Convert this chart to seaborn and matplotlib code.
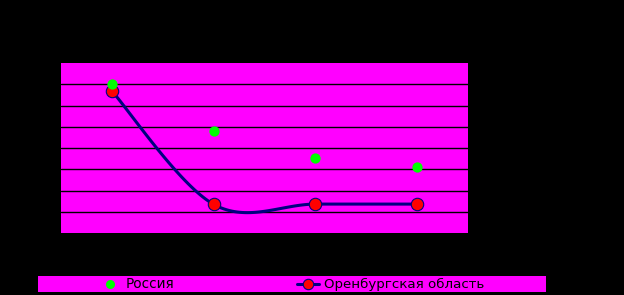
import numpy as np
import pandas as pd
import matplotlib
matplotlib.use("Agg")
import matplotlib.pyplot as plt
import seaborn as sns

# data (arbitrary units on an 8-unit grid)
categories = [1, 2, 3, 4]
russia = [7.0, 4.8, 3.52, 3.1]
orenburg = [6.68, 1.35, 1.36, 1.36]
series_names = ["Россия", "Оренбургская область"]

sns.set_theme(style="white")
plt.rcParams['font.family'] = ['DejaVu Sans']

MAGENTA = "#ff00ff"
GREEN = "#00ff00"
RED = "#ff0000"
NAVY = "#000080"

fig = plt.figure(figsize=(6.24, 2.95), dpi=100, facecolor="black")
ax = fig.add_axes([61/624, 1 - 233/295, (468-61)/624, (233-63)/295])
ax.set_facecolor(MAGENTA)

xs = np.arange(len(categories))

# Catmull-Rom style smoothing (like a spreadsheet "smoothed line")
def smooth(x, y, n=40):
    x = np.asarray(x, float); y = np.asarray(y, float)
    px, py = [], []
    for i in range(len(x) - 1):
        p0 = (x[i-1], y[i-1]) if i > 0 else (x[i], y[i])
        p3 = (x[i+2], y[i+2]) if i + 2 < len(x) else (x[i+1], y[i+1])
        p1 = (x[i], y[i]); p2 = (x[i+1], y[i+1])
        m1 = ((p2[0]-p0[0])/2, (p2[1]-p0[1])/2)
        m2 = ((p3[0]-p1[0])/2, (p3[1]-p1[1])/2)
        t = np.linspace(0, 1, n)
        h00 = 2*t**3 - 3*t**2 + 1; h10 = t**3 - 2*t**2 + t
        h01 = -2*t**3 + 3*t**2; h11 = t**3 - t**2
        px.extend(h00*p1[0] + h10*m1[0] + h01*p2[0] + h11*m2[0])
        py.extend(h00*p1[1] + h10*m1[1] + h01*p2[1] + h11*m2[1])
    return np.array(px), np.array(py)

sx, sy = smooth(xs, orenburg)
df_line = pd.DataFrame({"x": sx, "y": sy})
sns.lineplot(data=df_line, x="x", y="y", ax=ax, color=NAVY, linewidth=2.2,
             sort=False, estimator=None, zorder=3)

df_o = pd.DataFrame({"x": xs, "y": orenburg})
sns.scatterplot(data=df_o, x="x", y="y", ax=ax, color=RED, edgecolor=NAVY,
                linewidth=0.8, s=80, zorder=4)
df_r = pd.DataFrame({"x": xs, "y": russia})
sns.scatterplot(data=df_r, x="x", y="y", ax=ax, color=GREEN, edgecolor=GREEN,
                linewidth=0, s=55, marker="o", zorder=5)

ax.set_xlim(-0.5, 3.5)
ax.set_ylim(0, 8)
for v in range(1, 8):
    ax.axhline(v, color="black", linewidth=1.0, zorder=1)
ax.set_xticks([]); ax.set_yticks([])
ax.set_xlabel(""); ax.set_ylabel("")
for s in ax.spines.values():
    s.set_visible(False)

# legend bar
lax = fig.add_axes([38/624, 1 - 292/295, (546-38)/624, 16/295])
lax.set_facecolor(MAGENTA)
lax.set_xlim(38, 546); lax.set_ylim(0, 16)
lax.set_xticks([]); lax.set_yticks([])
for s in lax.spines.values():
    s.set_visible(False)
lax.plot([110], [8], "o", color=GREEN, markersize=6.5, markeredgewidth=0)
lax.text(126, 8, series_names[0], color="black", fontsize=9.8, va="center", ha="left")
lax.plot([297, 319], [8, 8], color=NAVY, linewidth=2.2)
lax.plot([308], [8], "o", color=RED, markeredgecolor=NAVY, markersize=7.5, markeredgewidth=0.8)
lax.text(324, 8, series_names[1], color="black", fontsize=9.6, va="center", ha="left")

fig.savefig("out.png", dpi=100, facecolor="black")
